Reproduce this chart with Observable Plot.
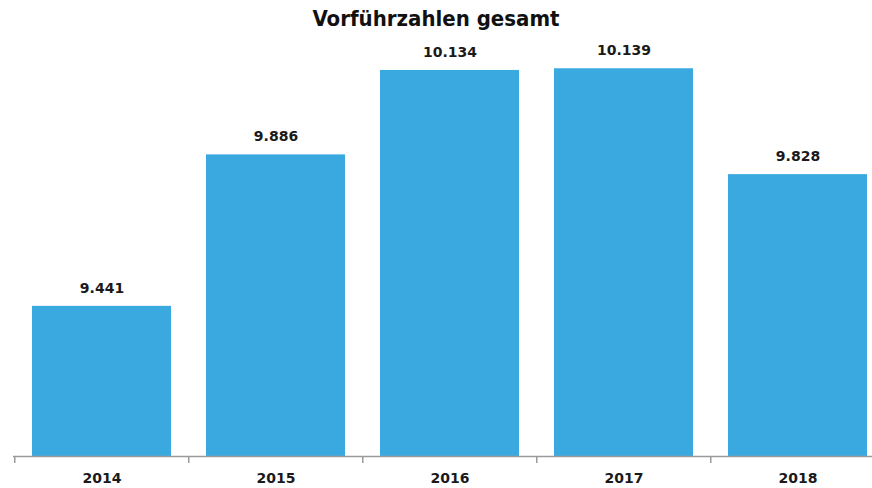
<!DOCTYPE html>
<html>
<head>
<meta charset="utf-8">
<script src="https://cdn.jsdelivr.net/npm/d3@7"></script>
<script src="https://cdn.jsdelivr.net/npm/@observablehq/plot@0.6"></script>
<style>
  html, body { margin: 0; padding: 0; background: #fff; }
  #title { height: 40px; line-height: 37px; text-align: center; font-family: "DejaVu Sans Condensed", "DejaVu Sans", sans-serif; font-weight: bold; font-size: 22px; color: #111; padding-left: 0px; }
  svg { display: block; }
</style>
</head>
<body>
<div id="title">Vorführzahlen gesamt</div>
<div id="chart"></div>
<script>
const years = ["2014", "2015", "2016", "2017", "2018"];
const values = [9441, 9886, 10134, 10139, 9828];
const yMin = 9000;
const yMax = 10222;

const data = years.map((y, i) => ({year: y, value: values[i]}));
const de = d3.formatLocale({decimal: ",", thousands: ".", grouping: [3], currency: ["", " €"]});
const fmt = de.format(",");

const xRange = [13, 885.5];
const step = (xRange[1] - xRange[0]) / years.length;

const chart = Plot.plot({
  width: 872,
  height: 448,
  marginTop: 0,
  marginBottom: 32,
  marginLeft: 13,
  marginRight: 0,
  style: {fontFamily: "'DejaVu Sans', Verdana, sans-serif", background: "#fff"},
  x: {domain: years, range: xRange, paddingInner: 0.2, paddingOuter: 0.1, axis: null, label: null},
  y: {domain: [yMin, yMax], axis: null},
  marks: [
    Plot.barY(data, {x: "year", y1: yMin, y2: "value", fill: "#39a9e0"}),
    Plot.text(data, {x: "year", y: "value", text: d => fmt(d.value), dy: -18, fontSize: 14, fontWeight: "bold", fill: "#1a1a1a"}),
    Plot.ruleY([yMin], {stroke: "#9a9a9a", strokeWidth: 1.5}),
    Plot.axisX({tickSize: 7, text: null, label: null, dx: -step / 2, stroke: "#9a9a9a", strokeWidth: 1.5}),
    Plot.axisX({tickSize: 0, tickPadding: 17, label: null, fontSize: 14, fontWeight: "bold", fill: "#1a1a1a"})
  ]
});
document.getElementById("chart").appendChild(chart);
</script>
</body>
</html>
